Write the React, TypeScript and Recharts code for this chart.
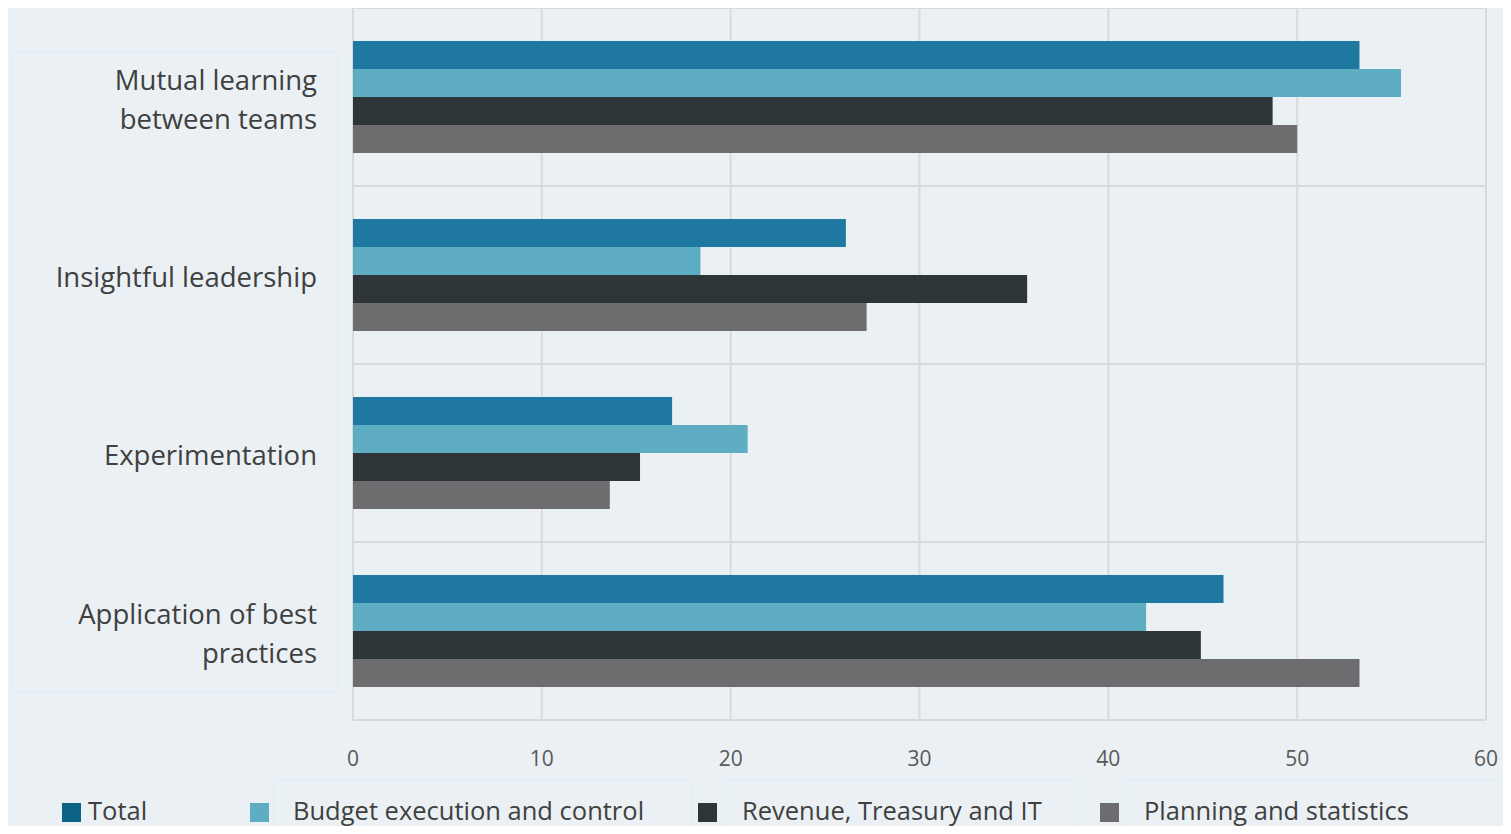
import React from "react";
import { BarChart, Bar, XAxis, YAxis, CartesianGrid } from "recharts";

// category labels, already split into the lines shown on the axis
const categoryLines = [
  ["Mutual learning", "between teams"],
  ["Insightful leadership"],
  ["Experimentation"],
  ["Application of best", "practices"],
];
const categories = categoryLines.map((l) => l.join(" "));

const totalValues = [53.3, 26.1, 16.9, 46.1];
const budgetValues = [55.5, 18.4, 20.9, 42.0];
const revenueValues = [48.7, 35.7, 15.2, 44.9];
const planningValues = [50.0, 27.2, 13.6, 53.3];

const seriesNames = ["Total", "Budget execution and control", "Revenue, Treasury and IT", "Planning and statistics"];
const seriesKeys = ["total", "budget", "revenue", "planning"];
const seriesColors = ["#1f78a0", "#5eadc2", "#2e3538", "#6d6d6f"];
const legendColors = ["#0b6283", "#5eadc2", "#2e3538", "#6d6d6f"];

const xTicks = [0, 10, 20, 30, 40, 50, 60];

const data = categories.map((name, i) => ({
  name,
  total: totalValues[i],
  budget: budgetValues[i],
  revenue: revenueValues[i],
  planning: planningValues[i],
}));

const FONT = "'Open Sans', sans-serif";

function CategoryTick(props: any) {
  const { x, y, payload } = props;
  const lines = categoryLines[payload.index] || [payload.value];
  const lh = 39;
  const start = -((lines.length - 1) * lh) / 2 + 12;
  return (
    <text x={x} y={y} textAnchor="end" fill="#404040" fontSize={27.5} fontFamily={FONT}>
      {lines.map((line: string, i: number) => (
        <tspan key={i} x={x} dy={i === 0 ? start : lh}>
          {line}
        </tspan>
      ))}
    </text>
  );
}

// legend positions on the page
const legendSquareX = [62, 250, 698, 1100];
const legendTextX = [88, 293, 742, 1144];
const legendBoxes = [
  null,
  { left: 273, width: 419 },
  { left: 722, width: 356 },
  { left: 1122, width: 383 },
];

export default function App() {
  return (
    <div style={{ position: "relative", width: 1511, height: 834, margin: -8, background: "#ffffff", overflow: "hidden", fontFamily: FONT }}>
      <div style={{ position: "absolute", left: 7, top: 5, width: 1499, height: 829, background: "#eaf0f3" }} />
      <div style={{ position: "absolute", left: 12, top: 52, width: 326, height: 640, border: "1px solid #dbeef4", boxSizing: "border-box" }} />
      {legendBoxes.map((b, i) =>
        b ? (
          <div
            key={i}
            style={{ position: "absolute", left: b.left, top: 780, width: b.width, height: 60, border: "1px solid #dbeef4", boxSizing: "border-box" }}
          />
        ) : null
      )}
      <div style={{ position: "absolute", left: 0, top: 0 }}>
        <BarChart
          width={1511}
          height={834}
          data={data}
          layout="vertical"
          margin={{ top: 8, right: 25, bottom: 0, left: 8 }}
          barGap={0}
          barSize={28}
        >
          <CartesianGrid
            stroke="#d9d9d9"
            strokeWidth={2}
            horizontalCoordinatesGenerator={({ offset }: any) =>
              [0, 1, 2, 3, 4].map((i) => offset.top + (i * offset.height) / 4)
            }
          />
          <XAxis
            type="number"
            domain={[0, 60]}
            ticks={xTicks}
            height={114}
            axisLine={false}
            tickLine={false}
            tickSize={0}
            tickMargin={31}
            tick={{ fill: "#595959", fontSize: 21, fontFamily: FONT }}
            interval={0}
          />
          <YAxis
            type="category"
            dataKey="name"
            width={345}
            axisLine={false}
            tickLine={false}
            tickSize={0}
            tickMargin={36}
            tick={<CategoryTick />}
            interval={0}
          />
          {seriesKeys.map((k, i) => (
            <Bar key={k} dataKey={k} name={seriesNames[i]} fill={seriesColors[i]} isAnimationActive={false} />
          ))}
        </BarChart>
      </div>
      {seriesNames.map((n, i) => (
        <React.Fragment key={n}>
          <div
            style={{ position: "absolute", left: legendSquareX[i], top: 803, width: 19, height: 19, background: legendColors[i] }}
          />
          <div
            style={{ position: "absolute", left: legendTextX[i], top: 792, fontSize: 25.5, lineHeight: "36px", color: "#404040", whiteSpace: "nowrap" }}
          >
            {n}
          </div>
        </React.Fragment>
      ))}
    </div>
  );
}
